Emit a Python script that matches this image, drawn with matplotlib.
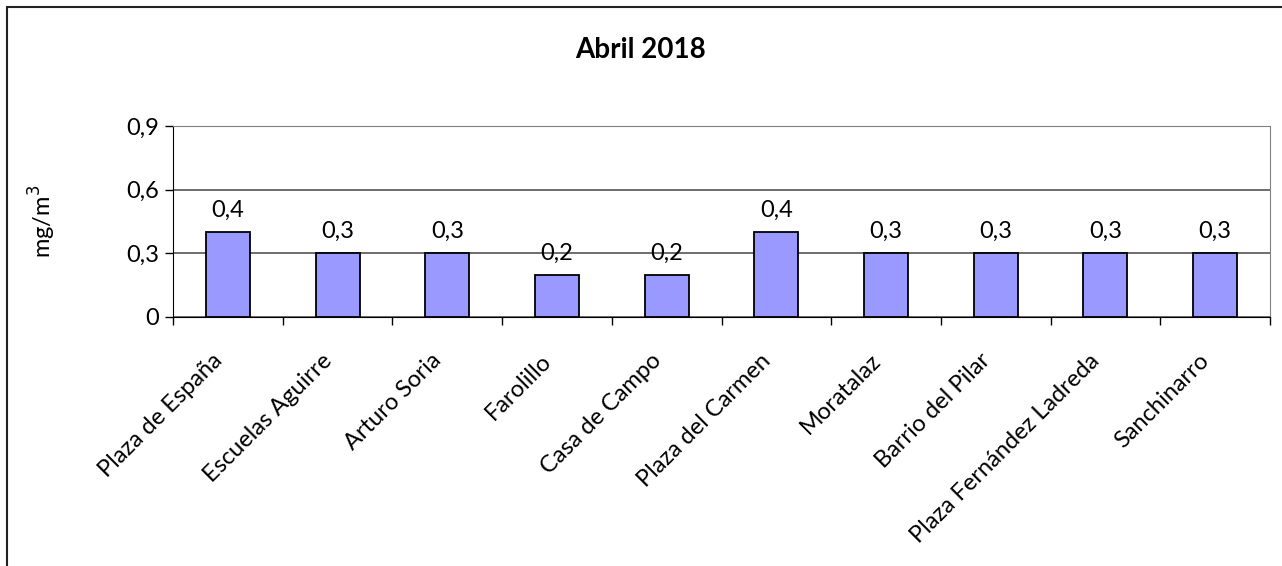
#!/usr/bin/env python3
"""
Monthly mean by station - Abril 2018
"""
import matplotlib
matplotlib.use("Agg")
import matplotlib.pyplot as plt
from matplotlib.patches import Rectangle
from matplotlib.transforms import ScaledTranslation
import numpy as np

stations = ["Plaza de España", "Escuelas Aguirre", "Arturo Soria", "Farolillo",
            "Casa de Campo", "Plaza del Carmen", "Moratalaz", "Barrio del Pilar",
            "Plaza Fernández Ladreda", "Sanchinarro"]
values = [0.4, 0.3, 0.3, 0.2, 0.2, 0.4, 0.3, 0.3, 0.3, 0.3]
y_ticks = [0, 0.3, 0.6, 0.9]
title = "Abril 2018"

plt.rcParams['font.family'] = ['Lato', 'DejaVu Sans']
FS = 17

fig = plt.figure(figsize=(12.82, 5.66), dpi=100)
ax = fig.add_axes([0.135, 0.44, 0.8556, 0.337])

x = np.arange(len(stations))
ax.bar(x, values, width=0.4, color='#9999FF', edgecolor='black', linewidth=1.3, zorder=3)

for xi, v in zip(x, values):
    ax.annotate(f"{v:.1f}".replace('.', ','), (xi, v), xytext=(0, 8),
                textcoords='offset points', ha='center', va='bottom', fontsize=FS)

ax.set_xlim(-0.5, len(stations) - 0.5)
ax.set_ylim(0, 0.9)
ax.set_yticks(y_ticks)
ax.set_yticklabels([f"{t:g}".replace('.', ',') for t in y_ticks], fontsize=FS)
ax.tick_params(axis='y', length=6, width=1, pad=4)

# labels at bar centres, tick marks between categories
ax.set_xticks(x)
ax.set_xticklabels(stations, rotation=45, ha='right', va='center',
                   rotation_mode='anchor', fontsize=FS)
ax.tick_params(axis='x', which='major', length=0, pad=29)
shift = ScaledTranslation(-9 / 100, 0, fig.dpi_scale_trans)
for lbl in ax.get_xticklabels():
    lbl.set_transform(lbl.get_transform() + shift)
ax.set_xticks(np.arange(len(stations) + 1) - 0.5, minor=True)
ax.tick_params(axis='x', which='minor', length=6, width=1)

ax.yaxis.grid(True, color='#555555', linewidth=1.2, zorder=0)
ax.set_axisbelow(True)
for side in ['top', 'right']:
    ax.spines[side].set_color('#808080')
for side in ['left', 'bottom']:
    ax.spines[side].set_color('black')

ax.set_ylabel("mg/m$^3$", fontsize=FS)
ax.yaxis.set_label_coords((58 - 173) / 1097, 0.5)
fig.text(0.5, 1 - 50 / 566, title, ha='center', va='center', fontsize=20, fontweight='bold')

# chart frame (only top and left edges fall inside the image)
fig.patches.append(Rectangle((7 / 1282, -0.1), 1.2, 1 - 7 / 566 + 0.1,
                             transform=fig.transFigure, fill=False,
                             edgecolor='#222222', linewidth=1.5))

fig.savefig('out.png', dpi=100)
